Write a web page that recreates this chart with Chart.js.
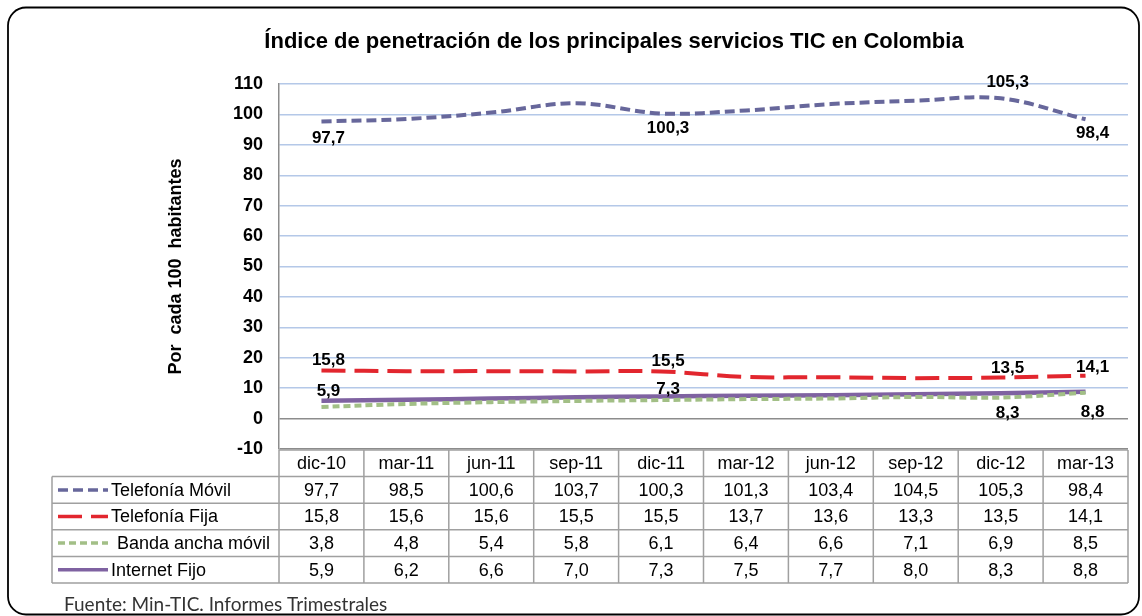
<!DOCTYPE html>
<html>
<head>
<meta charset="utf-8">
<script src="https://cdn.jsdelivr.net/npm/chart.js@4/dist/chart.umd.min.js"></script>
<style>
  html, body { margin: 0; padding: 0; background: #fff; }
  #wrap { width: 1142px; height: 616px; position: relative; }
</style>
</head>
<body>
<div id="wrap"><canvas id="ticChart"></canvas></div>
<script>
// categorías (trimestres)
const periodos = ['dic-10', 'mar-11', 'jun-11', 'sep-11', 'dic-11', 'mar-12', 'jun-12', 'sep-12', 'dic-12', 'mar-13'];

// series
const telefoniaMovil = [97.7, 98.5, 100.6, 103.7, 100.3, 101.3, 103.4, 104.5, 105.3, 98.4];
const telefoniaFija = [15.8, 15.6, 15.6, 15.5, 15.5, 13.7, 13.6, 13.3, 13.5, 14.1];
const bandaAnchaMovil = [3.8, 4.8, 5.4, 5.8, 6.1, 6.4, 6.6, 7.1, 6.9, 8.5];
const internetFijo = [5.9, 6.2, 6.6, 7.0, 7.3, 7.5, 7.7, 8.0, 8.3, 8.8];

// etiquetas de datos mostradas en el gráfico (índices)
const etiquetasMovil = [0, 4, 8, 9];
const etiquetasFija = [0, 4, 8, 9];
const etiquetasInternet = [0, 4, 8, 9];

const ejeY = { min: -10, max: 110, paso: 10 };

const fmt = v => v.toFixed(1).replace('.', ',');
const ARIAL = '"Liberation Sans", Arial, sans-serif';

const series = [
    { nombre: 'Telefonía Móvil', datos: telefoniaMovil, color: '#67679B', dash: [10, 5], ancho: 4, etiquetas: etiquetasMovil },
    { nombre: 'Telefonía Fija', datos: telefoniaFija, color: '#E2262E', dash: [24, 9], ancho: 4, etiquetas: etiquetasFija },
    { nombre: 'Banda ancha móvil', datos: bandaAnchaMovil, color: '#A2BF86', dash: [7, 4], ancho: 4, etiquetas: [] },
    { nombre: 'Internet Fijo', datos: internetFijo, color: '#7F62A1', dash: [], ancho: 4.5, etiquetas: etiquetasInternet }
];

// posición de etiquetas: arriba (-) o abajo (+) del punto
const posEtiquetas = {
    0: { 0: 17, 4: 15, 8: -16, 9: 14 },
    1: { 0: -10, 4: -10, 8: -9, 9: -8 },
    3: { 0: -9, 4: -7, 8: 20, 9: 20 }
};

// marco redondeado, etiquetas de datos, tabla y fuente
const extras = {
    id: 'extras',
    afterDatasetsDraw(chart) {
        const ctx = chart.ctx;
        ctx.save();
        ctx.font = 'bold 17px ' + ARIAL;
        ctx.fillStyle = '#000';
        ctx.textAlign = 'center';
        ctx.textBaseline = 'middle';
        series.forEach((s, di) => {
            const meta = chart.getDatasetMeta(di);
            s.etiquetas.forEach(i => {
                const p = meta.data[i];
                ctx.fillText(fmt(s.datos[i]), p.x + 7, p.y + posEtiquetas[di][i]);
            });
        });
        ctx.restore();
    },
    afterDraw(chart) {
        const ctx = chart.ctx;
        const area = chart.chartArea;
        const x = chart.scales.x;
        const paso = (area.right - area.left) / periodos.length;
        const top = area.bottom + 1;
        const fila = 26.6;
        const izq = 52;
        ctx.save();

        // tabla de datos
        ctx.strokeStyle = '#A0A0A0';
        ctx.lineWidth = 1.5;
        ctx.beginPath();
        ctx.moveTo(area.left, top); ctx.lineTo(area.right, top);
        for (let r = 1; r <= series.length + 1; r++) {
            ctx.moveTo(izq, top + r * fila); ctx.lineTo(area.right, top + r * fila);
        }
        for (let c = 0; c <= periodos.length; c++) {
            const cx = area.left + c * paso;
            ctx.moveTo(cx, top); ctx.lineTo(cx, top + (series.length + 1) * fila);
        }
        ctx.moveTo(izq, top + fila); ctx.lineTo(izq, top + (series.length + 1) * fila);
        ctx.stroke();

        ctx.font = '18px ' + ARIAL;
        ctx.fillStyle = '#000';
        ctx.textBaseline = 'middle';
        ctx.textAlign = 'center';
        periodos.forEach((p, i) => {
            ctx.fillText(p, x.getPixelForValue(i), top + fila / 2 + 1);
        });
        series.forEach((s, r) => {
            const cy = top + (r + 1.5) * fila + 1;
            ctx.textAlign = 'center';
            s.datos.forEach((v, i) => ctx.fillText(fmt(v), x.getPixelForValue(i), cy));
            // muestra de línea
            ctx.save();
            ctx.strokeStyle = s.color;
            ctx.lineWidth = 3.5;
            ctx.setLineDash(s.dash);
            ctx.beginPath();
            ctx.moveTo(58, cy - 1); ctx.lineTo(108, cy - 1);
            ctx.stroke();
            ctx.restore();
            ctx.textAlign = 'left';
            ctx.fillText(s.nombre, r === 2 ? 117 : 111, cy);
        });

        // fuente
        ctx.font = '19px Lato, "Open Sans", sans-serif';
        ctx.fillStyle = '#333';
        ctx.textAlign = 'left';
        ctx.fillText('Fuente: Min-TIC. Informes Trimestrales', 64, 605);

        // marco
        ctx.strokeStyle = '#000';
        ctx.lineWidth = 1.8;
        ctx.beginPath();
        ctx.roundRect(8, 7.5, 1131, 607, 18);
        ctx.stroke();
        ctx.restore();
    }
};

new Chart(document.getElementById('ticChart'), {
    type: 'line',
    data: {
        labels: periodos,
        datasets: series.map(s => ({
            label: s.nombre,
            data: s.datos,
            borderColor: s.color,
            borderWidth: s.ancho,
            borderDash: s.dash,
            borderCapStyle: 'butt',
            pointRadius: 0,
            pointHoverRadius: 0,
            tension: 0.35,
            fill: false
        }))
    },
    options: {
        responsive: true,
        maintainAspectRatio: false,
        animation: false,
        layout: { padding: { left: 100, right: 14, top: 0, bottom: 167 } },
        plugins: {
            legend: { display: false },
            tooltip: { enabled: false },
            title: {
                display: true,
                text: 'Índice de penetración de los principales servicios TIC en Colombia',
                color: '#000',
                font: { family: ARIAL, size: 22, weight: 'bold', lineHeight: 1.2 },
                padding: { top: 29, bottom: 28.6 }
            }
        },
        scales: {
            x: {
                offset: true,
                grid: { display: false },
                border: { display: false },
                ticks: { display: false },
                afterFit(scale) { scale.height = 0; }
            },
            y: {
                min: ejeY.min,
                max: ejeY.max,
                afterFit(scale) { scale.width = 179; },
                ticks: {
                    stepSize: ejeY.paso,
                    padding: 16,
                    color: '#000',
                    font: { family: ARIAL, size: 18, weight: 'bold' }
                },
                grid: {
                    drawTicks: false,
                    lineWidth: 1.5,
                    color: c => (c.tick && (c.tick.value === 0 || c.tick.value === ejeY.min)) ? '#8C8C8C' : '#B4C8E8'
                },
                border: { display: true, color: '#8C8C8C', width: 1.5 },
                title: {
                    display: true,
                    text: 'Por  cada 100  habitantes',
                    color: '#000',
                    font: { family: ARIAL, size: 18, weight: 'bold', lineHeight: 1.2 },
                    padding: { top: 65, bottom: 0 }
                }
            }
        }
    },
    plugins: [extras]
});
</script>
</body>
</html>
